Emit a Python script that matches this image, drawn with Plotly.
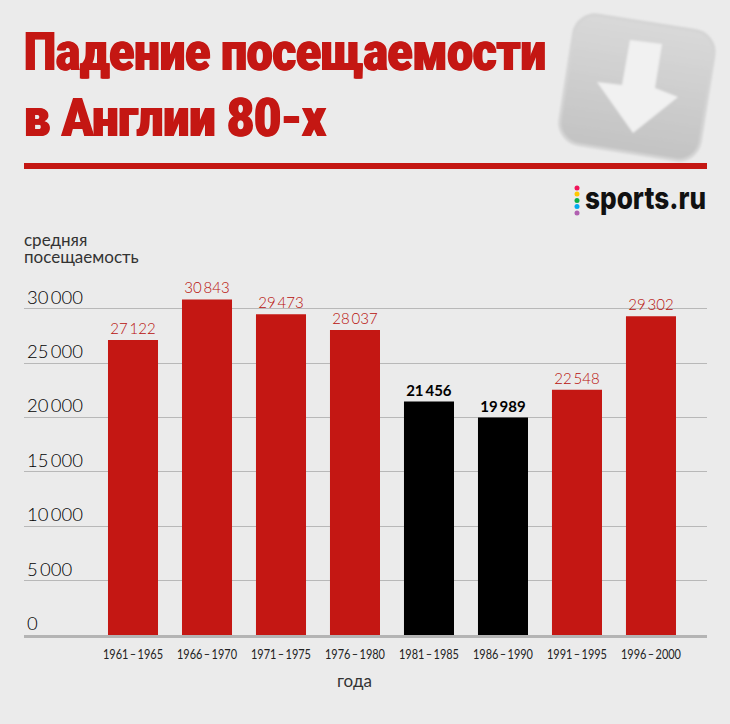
import base64
import plotly.graph_objects as go

THIN = "\u2009"
periods = [f"1961{THIN}–{THIN}1965", f"1966{THIN}–{THIN}1970", f"1971{THIN}–{THIN}1975", f"1976{THIN}–{THIN}1980",
           f"1981{THIN}–{THIN}1985", f"1986{THIN}–{THIN}1990", f"1991{THIN}–{THIN}1995", f"1996{THIN}–{THIN}2000"]
attendance = [27122, 30843, 29473, 28037, 21456, 19989, 22548, 29302]
highlighted = [f"1981{THIN}–{THIN}1985", f"1986{THIN}–{THIN}1990"]
y_ticks = [0, 5000, 10000, 15000, 20000, 25000, 30000]

W, H = 730, 724
L, R, T, B = 24, 23, 287, 89
RED = "#c41713"
BG = "#ebebeb"
FONT = "Lato"


def fmt(v):
    return f"{v:,}".replace(",", THIN)


bar_colors = ["#000000" if p in highlighted else RED for p in periods]
label_colors = ["#000000" if p in highlighted else "#b80e0a" for p in periods]

fig = go.Figure(go.Bar(
    x=periods, y=attendance, width=0.676,
    marker=dict(color=bar_colors, line_width=0),
    text=[f"<b>{fmt(v)}</b>" if p in highlighted else fmt(v) for p, v in zip(periods, attendance)],
    textposition="outside", cliponaxis=False,
    textfont=dict(family=FONT, size=15, color=label_colors, weight=300),
    hoverinfo="skip",
))

icon_svg = """<svg xmlns="http://www.w3.org/2000/svg" width="190" height="180" viewBox="0 0 190 180">
<defs>
<linearGradient id="g" x1="0" y1="0" x2="0" y2="1"><stop offset="0" stop-color="#d9d9d9"/><stop offset="1" stop-color="#c3c3c3"/></linearGradient>
<filter id="b" x="-10%" y="-10%" width="120%" height="120%"><feGaussianBlur stdDeviation="1.3"/></filter>
</defs>
<g filter="url(#b)">
<rect x="-71" y="-65" width="142" height="131" rx="22" fill="url(#g)" stroke="#d4d4d4" stroke-width="3" transform="translate(97 87) rotate(9)"/>
<path d="M90 40 L122 44 L115 88 L138 97 L93 133 L57 82 L82 85 Z" fill="#f1f1f1"/>
</g></svg>"""
icon_uri = "data:image/svg+xml;base64," + base64.b64encode(icon_svg.encode()).decode()

annotations = []
for t in y_ticks:
    annotations.append(dict(
        text=fmt(t),
        xref="paper", yref="y", x=(25 - L) / (W - L - R), y=t,
        xanchor="left", yanchor="bottom", yshift=-1, showarrow=False,
        font=dict(family=FONT, size=18.5, color="#000000", weight=300),
    ))


def page_text(text, x, y, size, color, family=FONT, xanchor="left", **font):
    annotations.append(dict(
        text=text, xref="paper", yref="paper",
        x=(x - L) / (W - L - R), y=(H - B - y) / (H - T - B),
        xanchor=xanchor, yanchor="middle", showarrow=False, align="left",
        font=dict(family=family, size=size, color=color, **font),
    ))


heavy = f"1px 0 0 {RED}, -1px 0 0 {RED}"
page_text("Падение посещаемости", 22, 51, 54, RED, "Roboto", weight=900, shadow=heavy)
page_text("в Англии 80-х", 22, 117, 54, RED, "Roboto", weight=900, shadow=heavy)
page_text("sports.ru", 707, 198, 30, "#111111", "Inter", xanchor="right", weight=800)
page_text("средняя<br>посещаемость", 22, 250, 17, "#333333")
annotations.append(dict(
    text="года", xref="x", yref="paper", x=3, y=(H - B - 680) / (H - T - B),
    xanchor="center", yanchor="middle", showarrow=False,
    font=dict(family=FONT, size=17, color="#333333"),
))

shapes = [dict(type="rect", xref="paper", yref="paper", layer="above", line_width=0, fillcolor=RED,
               x0=(24 - L) / (W - L - R), x1=(707 - L) / (W - L - R),
               y0=(H - B - 169) / (H - T - B), y1=(H - B - 163) / (H - T - B))]
for cy, col in zip([188, 194, 200.5, 206.5, 213], ["#f0145a", "#ffc800", "#0cb04a", "#00aaee", "#b060b0"]):
    shapes.append(dict(type="circle", xref="paper", yref="paper", line_width=0, fillcolor=col,
                       x0=(574.5 - L) / (W - L - R), x1=(579.5 - L) / (W - L - R),
                       y0=(H - B - cy - 2.5) / (H - T - B), y1=(H - B - cy + 2.5) / (H - T - B)))

fig.update_layout(
    width=W, height=H, autosize=False,
    margin=dict(l=L, r=R, t=T, b=B, pad=0),
    paper_bgcolor=BG, plot_bgcolor=BG, showlegend=False,
    annotations=annotations, shapes=shapes,
    images=[dict(source=icon_uri, xref="paper", yref="paper", layer="below",
                 x=(540 - L) / (W - L - R), y=(H - B - 0) / (H - T - B),
                 sizex=190 / (W - L - R), sizey=180 / (H - T - B),
                 xanchor="left", yanchor="top", sizing="stretch")],
    xaxis=dict(type="category", range=[-1.473, 7.757], showgrid=False, showline=True,
               linecolor="#b4b4b4", linewidth=3, ticks="", ticklabelstandoff=4, tickangle=0,
               tickfont=dict(family=FONT, size=14, color="#222222")),
    yaxis=dict(range=[0, 31985], tickvals=y_ticks, showticklabels=False, ticks="",
               gridcolor="#b8b8b8", gridwidth=1, zeroline=False),
)

# Page margin off; fit the condensed typography of the original to its measured widths.
post = """
document.documentElement.style.margin='0';
document.body.style.margin='0';
document.body.style.background='#ebebeb';
var fit=function(t,w,left){
  t.setAttribute('textLength',w);t.setAttribute('lengthAdjust','spacingAndGlyphs');
  if(left!==undefined){
    t.setAttribute('text-anchor','start');
    var dx=left-t.getBoundingClientRect().left;
    t.setAttribute('x',parseFloat(t.getAttribute('x')||0)+dx);
  }
};
document.fonts.ready.then(function(){
  document.querySelectorAll('.annotation-text').forEach(function(t){
    var s=t.textContent;
    if(s.indexOf('Падение')===0)fit(t,522,24);
    if(s.indexOf('в Англии')===0)fit(t,302,24);
    if(s==='sports.ru')fit(t,121,585);
    if(s.indexOf('средняя')===0){
      t.querySelectorAll('tspan.line').forEach(function(l,i){if(i>0)l.setAttribute('dy','1em');});
    }
  });
  document.querySelectorAll('.xtick text').forEach(function(t){fit(t,60);});
});
"""
fig.write_html("out.html", post_script=post, config=dict(displayModeBar=False))
